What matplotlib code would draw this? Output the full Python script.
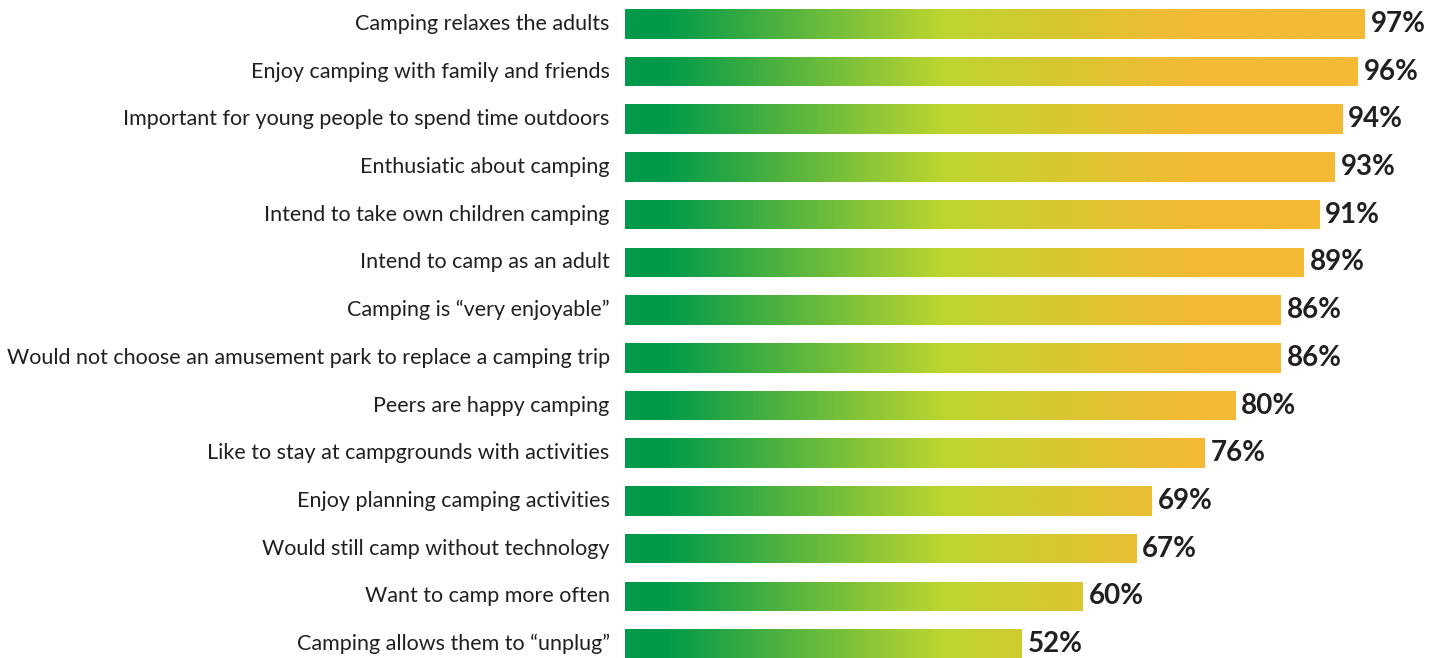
import numpy as np
import matplotlib
matplotlib.use("Agg")
import matplotlib.pyplot as plt
from matplotlib.colors import LinearSegmentedColormap

labels = [
    "Camping relaxes the adults",
    "Enjoy camping with family and friends",
    "Important for young people to spend time outdoors",
    "Enthusiatic about camping",
    "Intend to take own children camping",
    "Intend to camp as an adult",
    "Camping is \u201cvery enjoyable\u201d",
    "Would not choose an amusement park to replace a camping trip",
    "Peers are happy camping",
    "Like to stay at campgrounds with activities",
    "Enjoy planning camping activities",
    "Would still camp without technology",
    "Want to camp more often",
    "Camping allows them to \u201cunplug\u201d",
]
values = [97, 96, 94, 93, 91, 89, 86, 86, 80, 76, 69, 67, 60, 52]

plt.rcParams['font.family'] = ['Lato', 'DejaVu Sans']
text_color = "#231F20"

cmap = LinearSegmentedColormap.from_list("camp", [
    (0.0, "#009A4A"), (0.05, "#009A4A"), (0.42, "#BED630"),
    (0.56, "#D6C830"), (0.75, "#F5BA35"), (1.0, "#F5BA35")])

fig = plt.figure(figsize=(14.45, 6.58), dpi=100)
ax = fig.add_axes([625 / 1445, 0, 1 - 625 / 1445, 1])

xmax = 107.5
grad = np.linspace(0, 1, 512).reshape(1, -1)
bars = ax.barh(range(len(values)), values, height=0.62, color="none", edgecolor="none")
for bar, v, lab in zip(bars, values, labels):
    im = ax.imshow(grad, cmap=cmap, aspect="auto",
                   extent=(0, 100, bar.get_y() + bar.get_height(), bar.get_y()),
                   interpolation="bilinear")
    im.set_clip_path(bar)
    yc = bar.get_y() + bar.get_height() / 2
    ax.text(v + 0.8, yc, f"{v}%", va="center", ha="left", fontsize=20,
            fontweight="bold", color=text_color)
    ax.text(-2.0, yc, lab, va="center", ha="right", fontsize=15.5,
            color=text_color, clip_on=False)

ax.set_xlim(0, xmax)
ax.set_ylim((658 - 20) / 48, -24 / 48)
ax.axis("off")

fig.savefig("out.png", dpi=100)
